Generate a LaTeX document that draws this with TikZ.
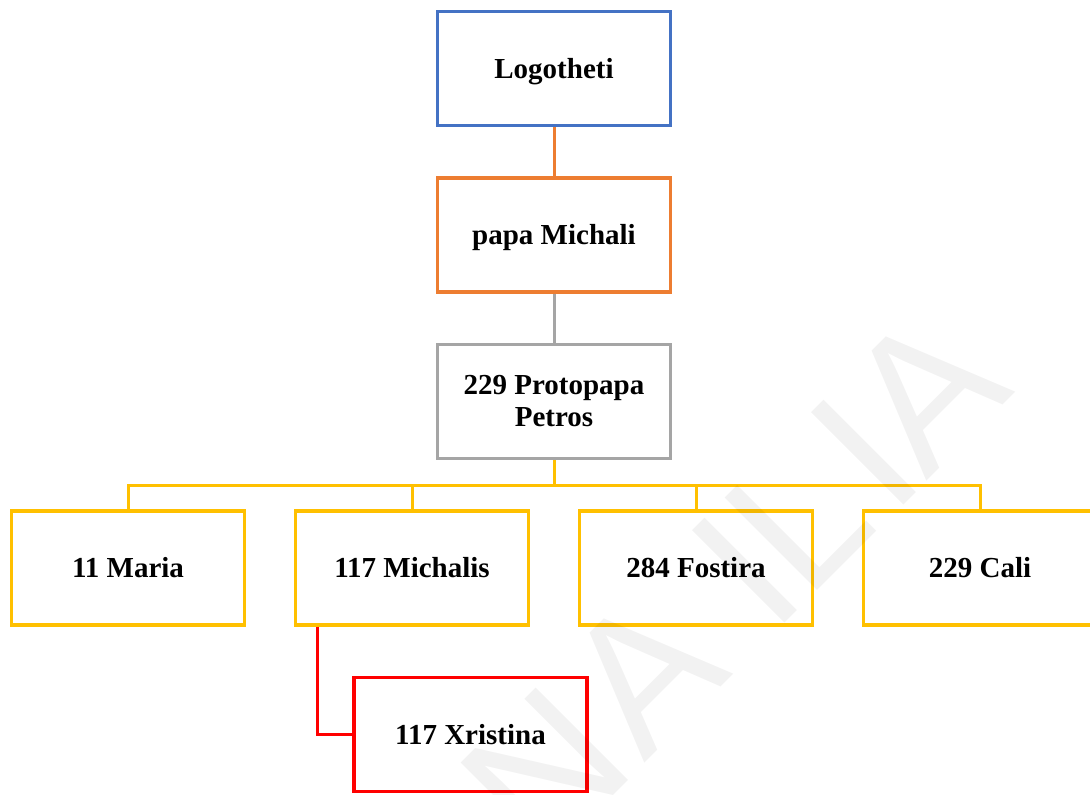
\documentclass[tikz,border=0pt]{standalone}
\usepackage{fontspec}
\setmainfont{Liberation Serif}
\newfontfamily\wmfont{Liberation Sans}
\definecolor{cblue}{HTML}{4472C4}
\definecolor{corange}{HTML}{ED7D31}
\definecolor{cgray}{HTML}{A5A5A5}
\definecolor{cyellow}{HTML}{FFC000}
\definecolor{cred}{HTML}{FF0000}
\begin{document}
\begin{tikzpicture}[x=1pt,y=-1pt,
  box/.style={draw, line width=3.2pt, minimum width=233pt, minimum height=114pt,
    inner sep=0pt, align=center, text height=19pt, text depth=0pt,
    font=\fontsize{29}{32}\selectfont\bfseries},
  conn/.style={line width=3pt},
  wm/.style={text=black, text opacity=0.05, inner sep=0pt, rotate=45,
    font=\wmfont\fontsize{190}{190}\selectfont}]
\useasboundingbox (0,0) rectangle (1090,795);
\fill[white] (0,0) rectangle (1090,795);

\node[box, draw=cblue] (logo) at (554,68.5) {Logotheti};
\node[box, draw=corange] (papa) at (554,235) {papa Michali};
\node[box, draw=cgray, text height=, text depth=] (proto) at (554,401.5) {229 Protopapa\\Petros};
\node[box, draw=cyellow] (maria) at (128,568) {11 Maria};
\node[box, draw=cyellow] (michalis) at (412,568) {117 Michalis};
\node[box, draw=cyellow] (fostira) at (696,568) {284 Fostira};
\node[box, draw=cyellow] (cali) at (980,568) {229 Cali};
\node[box, draw=cred] (xristina) at (470.5,734.5) {117 Xristina};

\coordinate (bus) at (554,485);
\draw[conn, corange] (logo.south) -- (papa.north);
\draw[conn, cgray] (papa.south) -- (proto.north);
\draw[conn, cyellow] (proto.south) -- (bus);
\draw[conn, cyellow] (bus) -| (maria.north);
\draw[conn, cyellow] (bus) -| (michalis.north);
\draw[conn, cyellow] (bus) -| (fostira.north);
\draw[conn, cyellow] (bus) -| (cali.north);
\draw[conn, cred] ([xshift=23.5pt]michalis.south west) |- (xristina.west);

\node[wm] (w1) at (544.5,771.5) {N};
\node[wm] (w2) at (643.5,672.5) {A};
\node[wm] (w3) at (745,571) {I};
\node[wm] (w4) at (798,518) {L};
\node[wm] (w5) at (863.5,452.5) {I};
\node[wm] (w6) at (925.5,390.5) {A};
\end{tikzpicture}
\end{document}
